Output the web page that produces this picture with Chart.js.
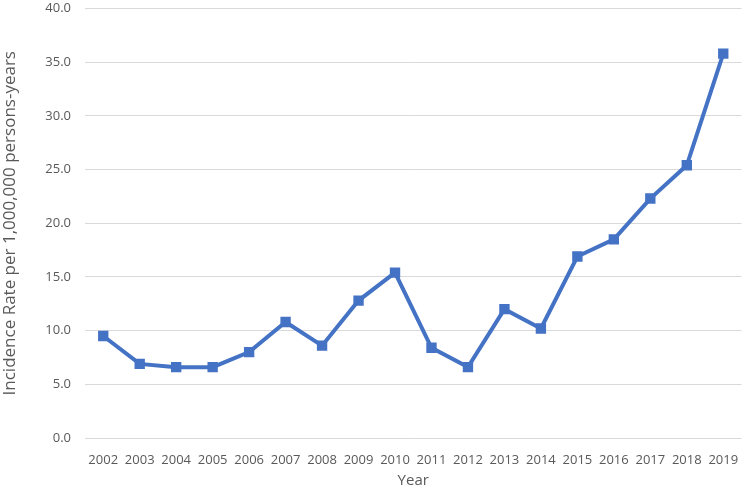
<!DOCTYPE html>
<html lang="en">
<head>
<meta charset="UTF-8">
<title>Incidence Rate</title>
<script src="https://cdn.jsdelivr.net/npm/chart.js"></script>
<style>
  html, body { margin: 0; padding: 0; background: #fff; }
  #wrap { width: 750px; height: 490px; }
</style>
</head>
<body>
<div id="wrap"><canvas id="chart" width="750" height="490"></canvas></div>
<script>
// Datos
const years = ['2002', '2003', '2004', '2005', '2006', '2007', '2008', '2009', '2010',
               '2011', '2012', '2013', '2014', '2015', '2016', '2017', '2018', '2019'];
const rates = [9.5, 6.9, 6.6, 6.6, 8.0, 10.8, 8.6, 12.8, 15.4,
               8.4, 6.6, 12.0, 10.2, 16.9, 18.5, 22.3, 25.4, 35.8];
const yTicks = [0, 5, 10, 15, 20, 25, 30, 35, 40];

const fontFamily = '"Open Sans", "Noto Sans", sans-serif';
const textColor = '#595959';

new Chart(document.getElementById('chart').getContext('2d'), {
    type: 'line',
    data: {
        labels: years,
        datasets: [{
            data: rates,
            borderColor: '#4472C4',
            backgroundColor: '#4472C4',
            borderWidth: 4,
            pointStyle: 'rect',
            pointRadius: 4.5,
            pointHoverRadius: 4.5,
            tension: 0,
            fill: false,
            clip: 8
        }]
    },
    options: {
        responsive: false,
        animation: false,
        layout: { padding: { top: 7, right: 2, left: 0, bottom: 0 } },
        plugins: { legend: { display: false }, tooltip: { enabled: false } },
        scales: {
            x: {
                offset: true,
                grid: { display: false },
                border: { display: false },
                ticks: { color: textColor, font: { family: fontFamily, size: 13 }, padding: 6, maxRotation: 0, autoSkip: false },
                title: { display: true, text: 'Year', color: textColor, font: { family: fontFamily, size: 15 }, padding: { top: 3, bottom: 0 } },
                afterFit: s => { s.height = 52; s.paddingLeft = 0; s.paddingRight = 0; }
            },
            y: {
                min: 0,
                max: 40,
                afterBuildTicks: s => { s.ticks = yTicks.map(v => ({ value: v })); },
                grid: { color: '#d9d9d9', lineWidth: 1, drawTicks: false },
                border: { display: false },
                ticks: { color: textColor, font: { family: fontFamily, size: 13 }, padding: 14,
                         callback: v => Number(v).toFixed(1) },
                title: { display: true, text: 'Incidence Rate per 1,000,000 persons-years', color: textColor,
                         font: { family: fontFamily, size: 17 }, padding: { top: 0, bottom: 3 } },
                afterFit: s => { s.width = 85; s.paddingTop = 0; s.paddingBottom = 0; }
            }
        }
    }
});
</script>
</body>
</html>
